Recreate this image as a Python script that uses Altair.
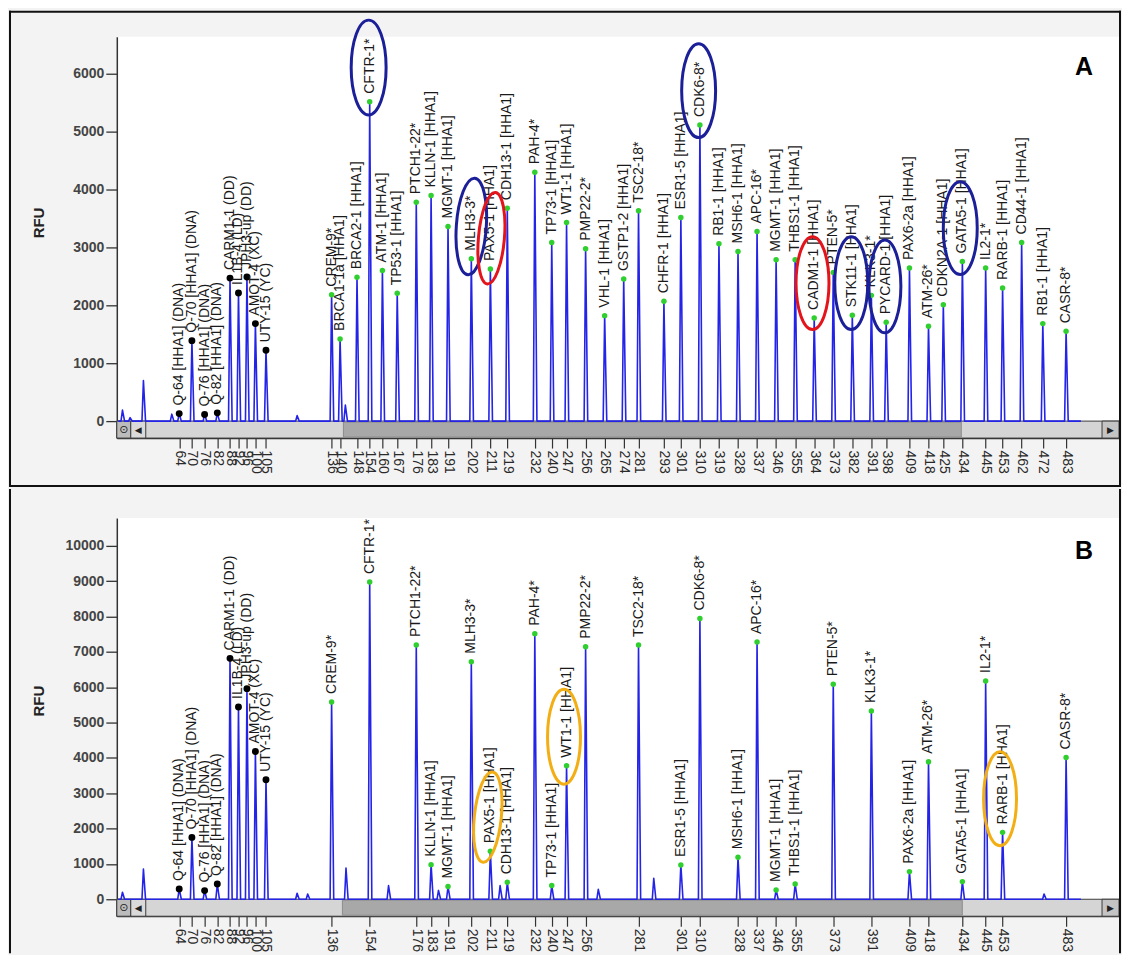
import altair as alt
import pandas as pd

FONT = "Liberation Sans"

# ---------------- Panel A: labelled peaks ----------------
A_LABELS = [
    "Q-64 [HHA1] (DNA)", "Q-70 [HHA1] (DNA)", "Q-76 [HHA1] (DNA)", "Q-82 [HHA1] (DNA)",
    "CARM1-1 (DD)", "IL1B-4 (LD)", "JPH3-up (DD)", "AMOT-4 (XC)", "UTY-15 (YC)",
    "CREM-9*", "BRCA1-1a [HHA1]", "BRCA2-1 [HHA1]", "CFTR-1*", "ATM-1 [HHA1]",
    "TP53-1 [HHA1]", "PTCH1-22*", "KLLN-1 [HHA1]", "MGMT-1 [HHA1]", "MLH3-3*",
    "PAX5-1 [HHA1]", "CDH13-1 [HHA1]", "PAH-4*", "TP73-1 [HHA1]", "WT1-1 [HHA1]",
    "PMP22-2*", "VHL-1 [HHA1]", "GSTP1-2 [HHA1]", "TSC2-18*", "CHFR-1 [HHA1]",
    "ESR1-5 [HHA1]", "CDK6-8*", "RB1-1 [HHA1]", "MSH6-1 [HHA1]", "APC-16*",
    "MGMT-1 [HHA1]", "THBS1-1 [HHA1]", "CADM1-1 [HHA1]", "PTEN-5*", "STK11-1 [HHA1]",
    "KLK3-1*", "PYCARD-1 [HHA1]", "PAX6-2a [HHA1]", "ATM-26*", "CDKN2A-1 [HHA1]",
    "GATA5-1 [HHA1]", "IL2-1*", "RARB-1 [HHA1]", "CD44-1 [HHA1]", "RB1-1 [HHA1]",
    "CASR-8*",
]
A_BP = [64, 70, 76, 82, 88, 92, 96, 100, 105,
        136, 140, 148, 154, 160, 167, 176, 183, 191, 202,
        211, 219, 232, 240, 247, 256, 265, 274, 281, 293,
        301, 310, 319, 328, 337, 346, 355, 364, 373, 382,
        391, 398, 409, 418, 425, 434, 445, 453, 462, 472, 483]
A_RFU = [130, 1390, 115, 143, 2470, 2212, 2488, 1684, 1224,
         2184, 1420, 2483, 5517, 2603, 2207, 3781, 3897, 3362, 2805,
         2626, 3678, 4299, 3086, 3431, 2977, 1822, 2454, 3632, 2069,
         3517, 5115, 3063, 2931, 3276, 2787, 2787, 1782, 2569, 1828,
         2172, 1707, 2644, 1638, 2011, 2759, 2644, 2299, 3086, 1684, 1552]
A_MINOR_BP = [37.2, 40.8, 47.1, 60.5, 119.7, 142.5]
A_MINOR_RFU = [190, 60, 702, 120, 95, 276]

# ---------------- Panel B: labelled peaks ----------------
B_LABELS = [
    "Q-64 [HHA1] (DNA)", "Q-70 [HHA1] (DNA)", "Q-76 [HHA1] (DNA)", "Q-82 [HHA1] (DNA)",
    "CARM1-1 (DD)", "IL1B-4 (LD)", "JPH3-up (DD)", "AMOT-4 (XC)", "UTY-15 (YC)",
    "CREM-9*", "CFTR-1*", "PTCH1-22*", "KLLN-1 [HHA1]", "MGMT-1 [HHA1]", "MLH3-3*",
    "PAX5-1 [HHA1]", "CDH13-1 [HHA1]", "PAH-4*", "TP73-1 [HHA1]", "WT1-1 [HHA1]",
    "PMP22-2*", "TSC2-18*", "ESR1-5 [HHA1]", "CDK6-8*", "MSH6-1 [HHA1]", "APC-16*",
    "MGMT-1 [HHA1]", "THBS1-1 [HHA1]", "PTEN-5*", "KLK3-1*", "PAX6-2a [HHA1]",
    "ATM-26*", "GATA5-1 [HHA1]", "IL2-1*", "RARB-1 [HHA1]", "CASR-8*",
]
B_BP = [64, 70, 76, 82, 88, 92, 96, 100, 105,
        136, 154, 176, 183, 191, 202, 211, 219, 232, 240, 247,
        256, 281, 301, 310, 328, 337, 346, 355, 373, 391, 409,
        418, 434, 445, 453, 483]
B_RFU = [291, 1751, 245, 433, 6817, 5443, 5960, 4181, 3381,
         5585, 8975, 7195, 980, 359, 6723, 1356, 480, 7514, 387, 3777,
         7147, 7195, 969, 7946, 1186, 7279, 263, 433, 6083, 5330, 782,
         3889, 499, 6177, 1893, 4011]
B_MINOR_BP = [37.2, 47.1, 119.7, 124.7, 142.8, 162.9, 186.5, 215.6, 262.0, 288.2, 472.6]
B_MINOR_RFU = [198, 856, 170, 150, 884, 386, 250, 386, 280, 590, 150]

# ---------------- annotations (ellipses, panel letters) ----------------
A_ELL_BP = [153.5, 202.0, 211.5, 309.4, 363.2, 381.5, 397.4, 433.0]
A_ELL_RFU = [6107, 3362, 3160, 5707, 2384, 2384, 2328, 3333]
B_ELL_BP = [209.8, 245.8, 451.8]
B_ELL_RFU = [2325, 4599, 2845]
LETTERS = ["A", "B"]
LETTER_BP = [491.5, 491.5]
LETTER_RFU = [6120, 9859]

# ---------------- styles ----------------
NAVY, RED, ORANGE = "#1b1f98", "#e3141b", "#f3ae14"
A_ELL_W = [35, 30, 26, 34, 33, 33, 32, 34]
A_ELL_H = [95, 97, 92, 94, 93, 93, 93, 93]
A_ELL_TILT = [0, 4, 5, 0, 0, 0, 0, 0]
A_ELL_COLOR = [NAVY, NAVY, RED, NAVY, RED, NAVY, NAVY, NAVY]
B_ELL_W = [27, 33, 33]
B_ELL_H = [91, 95, 94]
B_ELL_TILT = [6, 0, 0]
B_ELL_COLOR = [ORANGE, ORANGE, ORANGE]

TRACE_COLOR = "#2424e8"
GREEN = "#2fcf2f"
FOOT_L, FOOT_R = 0.7, 1.0
TRACE_START, TRACE_END = 35.2, 490.0
X_DOMAIN = [34.52, 508.0]
PLOT_W = 1004
ONE = pd.DataFrame({"k": [0]})


def ellipse_path(w, h):
    r = w / h
    k = 0.5523
    return (f"M0,-1C{k*r:.4f},-1,{r:.4f},{-k:.4f},{r:.4f},0"
            f"C{r:.4f},{k:.4f},{k*r:.4f},1,0,1"
            f"C{-k*r:.4f},1,{-r:.4f},{k:.4f},{-r:.4f},0"
            f"C{-r:.4f},{-k:.4f},{-k*r:.4f},-1,0,-1Z")


def trace_table(bp, rfu, mbp, mrfu):
    peaks = sorted(zip(list(bp) + list(mbp), list(rfu) + list(mrfu)))
    xs, ys = [TRACE_START], [0.0]
    for b, h in peaks:
        xs += [b - FOOT_L, b, b + FOOT_R]
        ys += [0.0, h, 0.0]
    xs.append(TRACE_END)
    ys.append(0.0)
    return pd.DataFrame({"bp": xs, "rfu": ys, "i": list(range(len(xs)))})


def vrect(x1, x2, y1, y2, fill, stroke="#3c3c3c", sw=1):
    return alt.Chart(ONE).mark_rect(fill=fill, stroke=stroke, strokeWidth=sw).encode(
        x=alt.value(x1), x2=alt.value(x2), y=alt.value(y1), y2=alt.value(y2))


def vrule(x1, x2, y1, y2, color="#111111", sw=2, cap="butt"):
    return alt.Chart(ONE).mark_rule(color=color, strokeWidth=sw, strokeCap=cap).encode(
        x=alt.value(x1), x2=alt.value(x2), y=alt.value(y1), y2=alt.value(y2))


def vglyph(ch, x, y, size):
    return alt.Chart(ONE).mark_text(text=ch, fontSize=size, color="#202020",
                                    font="DejaVu Sans").encode(x=alt.value(x), y=alt.value(y))


def panel(labels, bp, rfu, mbp, mrfu, ebp, erfu, ew, eh, etilt, ecolor,
          letter, lbp, lrfu, ydom, yticks, height, title_y, thumb, frame):
    xenc = alt.X("bp:Q", scale=alt.Scale(domain=X_DOMAIN, nice=False, zero=False),
                 axis=alt.Axis(values=sorted(set(bp)), title=None, format="d",
                               labelAngle=90, labelAlign="left", labelBaseline="middle",
                               labelFontSize=14, labelColor="#2a2a2a", labelFont=FONT,
                               labelPadding=2, labelOverlap=False, labelFlush=False,
                               tickSize=10, tickColor="#333333", tickWidth=1.2,
                               domainColor="#333333", domainWidth=1.2, grid=False))
    yenc = alt.Y("rfu:Q", scale=alt.Scale(domain=ydom, nice=False, zero=False),
                 axis=alt.Axis(values=yticks, format="d", title="RFU",
                               titleX=-78, titleY=title_y, titleAngle=270,
                               titleAlign="center", titleBaseline="middle",
                               titleFontSize=15, titleFontWeight="bold", titleFont=FONT,
                               titleColor="#222222",
                               labelFontSize=14, labelFontWeight="bold", labelFont=FONT,
                               labelColor="#444444", labelPadding=2,
                               tickSize=11, tickColor="#333333", tickWidth=1.3,
                               domainColor="#333333", domainWidth=1.5, grid=False))
    H = height
    layers = []
    # scrollbar chrome under the trace
    layers.append(vrect(0, PLOT_W, H - 17, H, "#d5d5d5"))
    layers.append(vrect(thumb[0], thumb[1], H - 16, H - 1, "#a8a8a8", stroke="#8c8c8c"))
    layers.append(vrect(0, 14, H - 17, H, "#bcbcbc"))
    layers.append(vrect(14, 29, H - 17, H, "#dadada"))
    layers.append(vrect(PLOT_W - 17, PLOT_W, H - 17, H, "#c4c4c4"))
    layers.append(vglyph("⊙", 7, H - 8.5, 11))
    layers.append(vglyph("◀", 21.5, H - 8.5, 9))
    layers.append(vglyph("▶", PLOT_W - 8.5, H - 8.5, 9))

    tr = trace_table(bp, rfu, mbp, mrfu)
    layers.append(alt.Chart(tr).mark_line(color=TRACE_COLOR, strokeWidth=1.6,
                                          strokeJoin="round").encode(
        x=xenc, y=yenc, order=alt.Order("i:Q")))

    pk = pd.DataFrame({"bp": bp, "rfu": rfu, "label": labels})
    pk["dot"] = ["#000000" if "(" in s else GREEN for s in labels]
    pk["dsize"] = [48 if "(" in s else 30 for s in labels]
    layers.append(alt.Chart(pk).mark_circle(opacity=1).encode(
        x=xenc, y=yenc, color=alt.Color("dot:N", scale=None),
        size=alt.Size("dsize:Q", scale=None)))
    layers.append(alt.Chart(pk).mark_text(angle=270, align="left", baseline="middle",
                                          dx=8, fontSize=14, font=FONT,
                                          color="#1a1a1a").encode(
        x=xenc, y=yenc, text="label:N"))

    el = pd.DataFrame({"bp": ebp, "rfu": erfu,
                       "shape": [ellipse_path(w, h) for w, h in zip(ew, eh)],
                       "size": [h * h for h in eh], "tilt": etilt, "col": ecolor})
    layers.append(alt.Chart(el).mark_point(filled=False, strokeWidth=3, opacity=1).encode(
        x=xenc, y=yenc,
        shape=alt.Shape("shape:N", scale=None),
        size=alt.Size("size:Q", scale=None),
        angle=alt.Angle("tilt:Q", scale=None),
        color=alt.Color("col:N", scale=None)))

    lt = pd.DataFrame({"bp": [lbp], "rfu": [lrfu], "t": [letter]})
    layers.append(alt.Chart(lt).mark_text(fontSize=25, fontWeight="bold", font=FONT,
                                          color="#000000").encode(
        x=xenc, y=yenc, text="t:N"))

    for f in frame:
        layers.append(vrule(*f))

    return alt.layer(*layers).properties(width=PLOT_W, height=H)


A_FRAME = [(-107, 1005, -25, -25, "#111111", 2, "square"),
           (-107, -107, -25, 450, "#111111", 2, "square"),
           (1005, 1005, -25, 450, "#111111", 2, "square"),
           (-107, 1005, 450, 450, "#111111", 2, "square")]
B_FRAME = [(-107, -107, -28, 435, "#111111", 2, "square"),
           (1005, 1005, -28, 435, "#111111", 2, "square")]

chart_a = panel(A_LABELS, A_BP, A_RFU, A_MINOR_BP, A_MINOR_RFU,
                A_ELL_BP, A_ELL_RFU, A_ELL_W, A_ELL_H, A_ELL_TILT, A_ELL_COLOR,
                LETTERS[0], LETTER_BP[0], LETTER_RFU[0],
                [-293, 6638], [0, 1000, 2000, 3000, 4000, 5000, 6000], 402, 186,
                (227, 846), A_FRAME)
chart_b = panel(B_LABELS, B_BP, B_RFU, B_MINOR_BP, B_MINOR_RFU,
                B_ELL_BP, B_ELL_RFU, B_ELL_W, B_ELL_H, B_ELL_TILT, B_ELL_COLOR,
                LETTERS[1], LETTER_BP[1], LETTER_RFU[1],
                [-480, 10791], [0, 1000, 2000, 3000, 4000, 5000, 6000, 7000, 8000, 9000, 10000],
                399, 183, (226, 847), B_FRAME)

chart = alt.vconcat(chart_a, chart_b, spacing=0).properties(
    padding={"left": 0, "top": 1, "right": 0, "bottom": 0},
    background="#f3f3f3",
).configure_view(fill="white", strokeWidth=0)

chart.save("out.html", embed_options={"renderer": "svg", "actions": False})
